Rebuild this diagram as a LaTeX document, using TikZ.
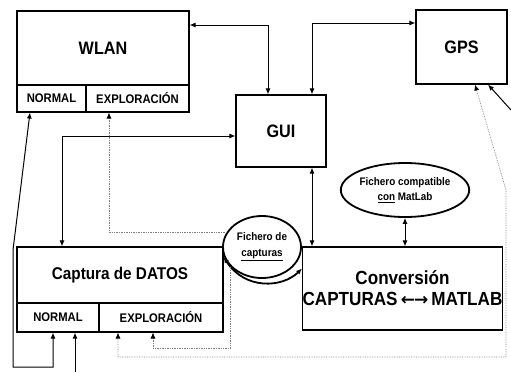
\documentclass[tikz,border=0pt]{standalone}
\usepackage{fontspec}
\newfontfamily\af[FakeStretch=0.9]{Liberation Sans}
\newfontfamily\dv{DejaVu Sans}
\usetikzlibrary{arrows.meta,shapes.geometric}
\begin{document}
\begin{tikzpicture}[x=1pt,y=-1pt,
  box/.style={draw,line width=1.1pt,inner sep=0pt,align=center},
  big/.style={font=\af\bfseries\fontsize{18}{20}\selectfont},
  small/.style={font=\af\bfseries\fontsize{12.5}{14}\selectfont},
  ell/.style={draw,ellipse,line width=1.8pt,inner sep=0pt,align=center,font=\af\bfseries\fontsize{11}{16}\selectfont},
  conn/.style={line width=1pt,{Latex[length=6pt,width=5pt]}-{Latex[length=6pt,width=5pt]}},
  conn1/.style={line width=1pt,-{Latex[length=6pt,width=5pt]}},
  dotc/.style={gray,line width=0.7pt,densely dotted},
  tip/.style={-{Latex[length=6pt,width=5pt,black,fill=black]}},
  tips/.style={{Latex[length=6pt,width=5pt,black,fill=black]}-{Latex[length=6pt,width=5pt,black,fill=black]}}
]
\useasboundingbox (0,0) rectangle (511,372);
% WLAN
\node[box,big,minimum width=172pt,minimum height=74pt] (wlan) at (103,48) {WLAN};
\node[box,small,minimum width=69pt,minimum height=27pt] (wn) at (51.5,98.5) {NORMAL};
\node[box,small,minimum width=103pt,minimum height=27pt] (we) at (137.5,98.5) {EXPLORACIÓN};
% GPS
\node[box,big,minimum width=91pt,minimum height=74pt] (gps) at (461.5,47) {GPS};
% GUI
\node[box,big,minimum width=90pt,minimum height=72pt] (gui) at (281,131) {GUI};
% Captura
\node[box,font=\af\bfseries\fontsize{17}{20}\selectfont,minimum width=206pt,minimum height=56pt] (captop) at (120,275) {Captura de DATOS};
\node[box,small,minimum width=82pt,minimum height=29pt] (capn) at (58,317.5) {NORMAL};
\node[box,small,minimum width=124pt,minimum height=29pt] (cape) at (161,317.5) {EXPLORACIÓN};
% Conversion
\node[box,font=\af\bfseries\fontsize{19}{21}\selectfont,minimum width=195pt,minimum height=83pt] (conv) at (402.5,288.5) {Conversión\\CAPTURAS\,{\dv\bfseries\fontsize{17}{21}\selectfont ←\kern-1pt→}\,MATLAB};
% ellipses
\node[ell,minimum width=116pt,minimum height=54pt,font=\af\bfseries\fontsize{11}{15}\selectfont] (fcm) at (405,190) {Fichero compatible\\\underline{con} MatLab};
\node[ell,minimum width=78pt,minimum height=62pt,fill=white] (fcap) at (262,247) {Fichero de\\\underline{capturas}};
% coordinates
\coordinate (lb2) at (13,250);
\coordinate (lb1) at (13,367);
\coordinate (bot) at (75,372);
\coordinate (d1) at (228,348);
\coordinate (r1) at (506,190);
\coordinate (r2) at (506,357);
\coordinate (rin) at (511,110);
% solid connectors
\draw[conn] ([yshift=23pt]wlan.east) -| ([xshift=-13pt]gui.north);
\draw[conn] ([xshift=31pt]gui.north) |- ([yshift=24pt]gps.west);
\draw[conn] ([yshift=-5pt]gui.west) -| ([xshift=-58pt]captop.north);
\draw[conn] ([xshift=31pt]gui.south) -- ([xshift=31pt]gui.south |- conv.north);
\draw[conn] (fcm.south) -- (fcm.south |- conv.north);
\draw[conn,line width=1.8pt] ([yshift=18pt]captop.east) .. controls (245,290) and (282,288) .. ([yshift=20pt]conv.west);
\draw[conn] ([xshift=-21.5pt]wn.south) -- (lb2) -- (lb1) -| ([xshift=-5pt]capn.south);
\draw[conn1] (bot) -- (bot |- capn.south);
\draw[conn1] (rin) -- ([xshift=26.5pt]gps.south);
% dotted connectors
\draw[dotc,tip] (fcap.157) -| ([xshift=-28.5pt]we.south);
\draw[dotc,tip] (fcap.212) |- (d1) -| ([xshift=-8pt]cape.south);
\draw[dotc,tips] ([xshift=13.5pt]gps.south) -- (r1) -- (r2) -| ([xshift=-43pt]cape.south);
\end{tikzpicture}
\end{document}
